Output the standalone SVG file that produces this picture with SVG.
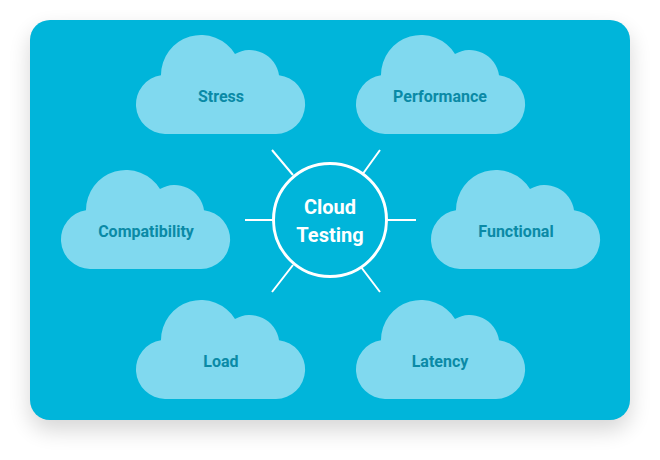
<svg xmlns="http://www.w3.org/2000/svg" xmlns:xlink="http://www.w3.org/1999/xlink" width="660" height="460" viewBox="0 0 660 460">
<style>
.cloud{fill:#80d9ef}
.lbl{font:700 16px Roboto,"Liberation Sans",sans-serif;fill:#0a8aa6;text-anchor:middle}
.hub{font:700 20px Roboto,"Liberation Sans",sans-serif;fill:#fff;text-anchor:middle}
.spoke{stroke:#fff;stroke-width:2;fill:none}
</style>
<defs>
<filter id="sh" x="-15%" y="-15%" width="130%" height="135%"><feGaussianBlur stdDeviation="11"/></filter>
<path id="c" class="cloud" d="M165 134H276A29.5 29.5 0 0 0 279 75.2A29.5 29.5 0 0 0 235 54A40 40 0 0 0 161 75.2A29.58 29.58 0 0 0 165 134Z"/>
</defs>
<rect width="660" height="460" fill="#fff"/>
<rect x="30" y="30" width="600" height="400" rx="20" fill="#000" opacity=".16" filter="url(#sh)"/>
<rect id="panel" x="30" y="20" width="600" height="400" rx="20" fill="#00b5da"/>
<g id="connectors" class="spoke">
<path d="M272 150L293 175M380 150L362 175M245 220H273M387 220H416M293 265L272 292M361 267L380 292"/>
</g>
<g id="hub">
<circle cx="330" cy="220" r="56.5" fill="#00b5da" stroke="#fff" stroke-width="3"/>
<text class="hub" x="330" y="214">Cloud</text>
<text class="hub" x="330" y="242">Testing</text>
</g>
<g id="stress"><use href="#c"/><text class="lbl" x="221" y="102">Stress</text></g>
<g id="performance"><use href="#c" x="220"/><text class="lbl" x="440" y="102">Performance</text></g>
<g id="compatibility"><use href="#c" x="-75" y="135"/><text class="lbl" x="146" y="237">Compatibility</text></g>
<g id="functional"><use href="#c" x="295" y="135"/><text class="lbl" x="516" y="237">Functional</text></g>
<g id="load"><use href="#c" y="265"/><text class="lbl" x="221" y="367">Load</text></g>
<g id="latency"><use href="#c" x="220" y="265"/><text class="lbl" x="440" y="367">Latency</text></g>
</svg>
